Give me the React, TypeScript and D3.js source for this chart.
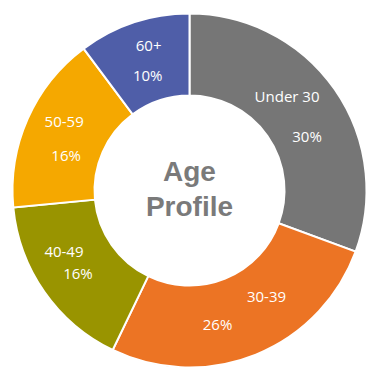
import React from "react";
import * as d3 from "d3";

const categories = ["Under 30", "30-39", "40-49", "50-59", "60+"];
const values = [30, 26, 16, 16, 10];
const percentLabels = ["30%", "26%", "16%", "16%", "10%"];
const colors = ["#767676", "#EC7424", "#999400", "#F5A800", "#4F5EA8"];
// label placement tweaks relative to arc centroid: [dx1, dy1, dx2, dy2]
const labelOffsets = [
  [-14, -16, 6, 24],
  [26, -20, -23, 8],
  [-14, -17, 0, 5],
  [-1, -14, 1, 20],
  [2, -16, 1, 14],
];

export default function App() {
  const W = 381;
  const H = 381;
  const cx = 189.5;
  const cy = 190.5;
  const outerR = 177;
  const innerR = 95;
  const pie = d3.pie<number>().sort(null).value((d) => d);
  const arcs = pie(values);
  const arcGen = d3.arc<d3.PieArcDatum<number>>().innerRadius(innerR).outerRadius(outerR);
  const font = "'Open Sans', 'Noto Sans', sans-serif";
  return (
    <svg width={W} height={H} style={{ position: "absolute", left: 0, top: 0, background: "#fff" }}>
      <g transform={`translate(${cx},${cy})`}>
        {arcs.map((a, i) => (
          <path key={i} d={arcGen(a) || ""} fill={colors[i]} stroke="#fff" strokeWidth={2} />
        ))}
        {arcs.map((a, i) => {
          const [x, y] = arcGen.centroid(a);
          const o = labelOffsets[i];
          return (
            <g key={"l" + i} fill="#fff" fontFamily={font} fontSize={15} textAnchor="middle">
              <text x={x + o[0]} y={y + o[1]} dy="0.35em">{categories[i]}</text>
              <text x={x + o[2]} y={y + o[3]} dy="0.35em">{percentLabels[i]}</text>
            </g>
          );
        })}
        <g fill="#7A7A7A" fontFamily="'Liberation Sans', Arial, sans-serif" fontWeight="bold" fontSize={28} textAnchor="middle">
          <text x={0} y={-10}>Age</text>
          <text x={0} y={25}>Profile</text>
        </g>
      </g>
    </svg>
  );
}
